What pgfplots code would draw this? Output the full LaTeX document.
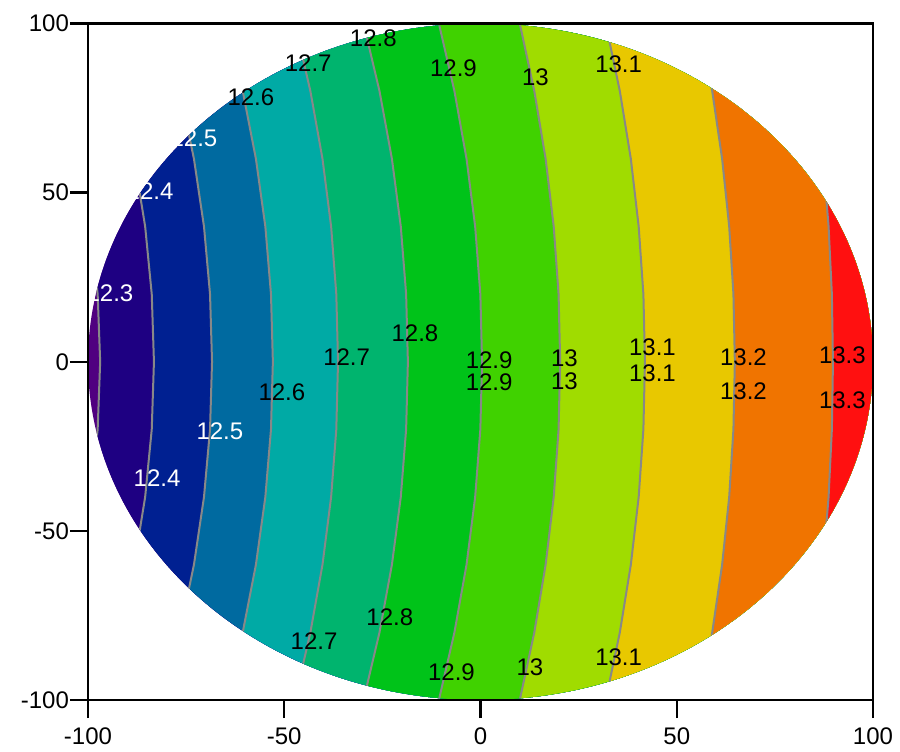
\documentclass[border=0pt]{standalone}
\usepackage{fontspec}
\setmainfont{Liberation Sans}
\usepackage{pgfplots}
\usepackage{pgfplotstable}
\pgfplotsset{compat=1.18}

\definecolor{c0}{RGB}{80,0,128}
\definecolor{c1}{RGB}{30,0,130}
\definecolor{c2}{RGB}{0,32,145}
\definecolor{c3}{RGB}{0,106,160}
\definecolor{c4}{RGB}{0,170,165}
\definecolor{c5}{RGB}{0,180,110}
\definecolor{c6}{RGB}{0,195,25}
\definecolor{c7}{RGB}{64,210,0}
\definecolor{c8}{RGB}{160,220,0}
\definecolor{c9}{RGB}{232,200,0}
\definecolor{c10}{RGB}{240,116,0}
\definecolor{c11}{RGB}{255,16,16}
\definecolor{cline}{RGB}{136,136,136}

\tikzset{
  lab/.style={font=\fontsize{12}{14}\selectfont, inner sep=0pt},
  cl/.style={cline, line width=1pt},
}

% contour lines x(y) for levels 12.3 ... 13.3 (L1..L11); L0 = left bound
% last two rows close each region on the far right
\pgfplotstableread{
y     L0    L1       L2      L3      L4      L5      L6      L7      L8     L9     L10    L11
-115  -130  -118.06  -101.70 -85.33  -68.77  -50.85  -33.44  -14.15  6.68   28.68  52.90  80.54
-100  -130  -112.90  -97.20  -81.20  -64.90  -47.30  -29.80  -10.60  10.00  31.90  55.80  82.80
-80   -130  -107.14  -92.16  -76.59  -60.58  -43.34  -25.73  -6.64   13.71  35.50  59.04  85.32
-60   -130  -102.66  -88.24  -73.01  -57.22  -40.26  -22.57  -3.56   16.59  38.30  61.56  87.28
-40   -130  -99.46   -85.44  -70.45  -54.82  -38.06  -20.31  -1.36   18.65  40.30  63.36  88.68
-20   -130  -97.54   -83.76  -68.91  -53.38  -36.74  -18.95  -0.04   19.89  41.50  64.44  89.52
0     -130  -96.90   -83.20  -68.40  -52.90  -36.30  -18.50  0.40    20.30  41.90  64.80  89.80
20    -130  -97.54   -83.76  -68.91  -53.38  -36.74  -18.95  -0.04   19.89  41.50  64.44  89.52
40    -130  -99.46   -85.44  -70.45  -54.82  -38.06  -20.31  -1.36   18.65  40.30  63.36  88.68
60    -130  -102.66  -88.24  -73.01  -57.22  -40.26  -22.57  -3.56   16.59  38.30  61.56  87.28
80    -130  -107.14  -92.16  -76.59  -60.58  -43.34  -25.73  -6.64   13.71  35.50  59.04  85.32
100   -130  -112.90  -97.20  -81.20  -64.90  -47.30  -29.80  -10.60  10.00  31.90  55.80  82.80
115   -130  -118.06  -101.70 -85.33  -68.77  -50.85  -33.44  -14.15  6.68   28.68  52.90  80.54
115   130   130      130     130     130     130     130     130     130    130    130    130
-115  130   130      130     130     130     130     130     130     130    130    130    130
}\contours

\begin{document}
\begin{tikzpicture}
\begin{axis}[
  scale only axis, width=392.5pt, height=338.25pt,
  xmin=-100, xmax=100, ymin=-100, ymax=100,
  xtick={-100,-50,0,50,100}, ytick={-100,-50,0,50,100},
  tick align=outside, major tick length=9pt,
  xtick pos=left, ytick pos=left,
  axis line style={line width=1.2pt},
  every tick/.style={black, line width=1.2pt},
  tick label style={font=\fontsize{12}{14}\selectfont},
  yticklabel style={xshift=3pt},
  xticklabel style={yshift=-1.5pt},
  /pgf/number format/assume math mode=true,
  axis on top,
]
\begin{scope}
\clip (axis cs:0,0) ellipse [x radius=100, y radius=100];
\addplot[fill=c0, draw=none] table[x=L0, y=y]{\contours};
\addplot[fill=c1, draw=none] table[x=L1, y=y]{\contours};
\addplot[fill=c2, draw=none] table[x=L2, y=y]{\contours};
\addplot[fill=c3, draw=none] table[x=L3, y=y]{\contours};
\addplot[fill=c4, draw=none] table[x=L4, y=y]{\contours};
\addplot[fill=c5, draw=none] table[x=L5, y=y]{\contours};
\addplot[fill=c6, draw=none] table[x=L6, y=y]{\contours};
\addplot[fill=c7, draw=none] table[x=L7, y=y]{\contours};
\addplot[fill=c8, draw=none] table[x=L8, y=y]{\contours};
\addplot[fill=c9, draw=none] table[x=L9, y=y]{\contours};
\addplot[fill=c10, draw=none] table[x=L10, y=y]{\contours};
\addplot[fill=c11, draw=none] table[x=L11, y=y]{\contours};
\addplot[cl, skip coords between index={13}{15}] table[x=L1, y=y]{\contours};
\addplot[cl, skip coords between index={13}{15}] table[x=L2, y=y]{\contours};
\addplot[cl, skip coords between index={13}{15}] table[x=L3, y=y]{\contours};
\addplot[cl, skip coords between index={13}{15}] table[x=L4, y=y]{\contours};
\addplot[cl, skip coords between index={13}{15}] table[x=L5, y=y]{\contours};
\addplot[cl, skip coords between index={13}{15}] table[x=L6, y=y]{\contours};
\addplot[cl, skip coords between index={13}{15}] table[x=L7, y=y]{\contours};
\addplot[cl, skip coords between index={13}{15}] table[x=L8, y=y]{\contours};
\addplot[cl, skip coords between index={13}{15}] table[x=L9, y=y]{\contours};
\addplot[cl, skip coords between index={13}{15}] table[x=L10, y=y]{\contours};
\addplot[cl, skip coords between index={13}{15}] table[x=L11, y=y]{\contours};
\end{scope}
% labels
\node[lab] at (axis cs:-27.3,95.6) {12.8};
\node[lab] at (axis cs:-43.9,88.4) {12.7};
\node[lab] at (axis cs:-58.5,78.3) {12.6};
\node[lab] at (axis cs:-6.9,86.9) {12.9};
\node[lab] at (axis cs:14.0,84.2) {13};
\node[lab] at (axis cs:35.2,88.1) {13.1};
\node[lab] at (axis cs:-34.1,1.4) {12.7};
\node[lab] at (axis cs:-16.7,8.5) {12.8};
\node[lab] at (axis cs:2.2,0.5) {12.9};
\node[lab] at (axis cs:2.2,-6.1) {12.9};
\node[lab] at (axis cs:21.4,1.1) {13};
\node[lab] at (axis cs:21.4,-5.7) {13};
\node[lab] at (axis cs:43.8,4.2) {13.1};
\node[lab] at (axis cs:43.8,-3.3) {13.1};
\node[lab] at (axis cs:67.0,1.3) {13.2};
\node[lab] at (axis cs:67.0,-8.7) {13.2};
\node[lab] at (axis cs:92.2,2.0) {13.3};
\node[lab] at (axis cs:92.2,-11.3) {13.3};
\node[lab] at (axis cs:-50.6,-8.9) {12.6};
\node[lab] at (axis cs:-42.4,-82.6) {12.7};
\node[lab] at (axis cs:-23.1,-75.5) {12.8};
\node[lab] at (axis cs:-7.4,-91.8) {12.9};
\node[lab] at (axis cs:12.6,-90.3) {13};
\node[lab] at (axis cs:35.2,-87.4) {13.1};
\node[lab, white] at (axis cs:-73.0,66.2) {12.5};
\node[lab, white] at (axis cs:-84.2,50.5) {12.4};
\node[lab, white] at (axis cs:-94.4,20.3) {12.3};
\node[lab, white] at (axis cs:-66.4,-20.5) {12.5};
\node[lab, white] at (axis cs:-82.4,-34.4) {12.4};
\end{axis}
\path (current axis.south west) ++(-44pt,-25.5pt);
\path (current axis.north east) ++(13.5pt,11.75pt);
\end{tikzpicture}
\end{document}
